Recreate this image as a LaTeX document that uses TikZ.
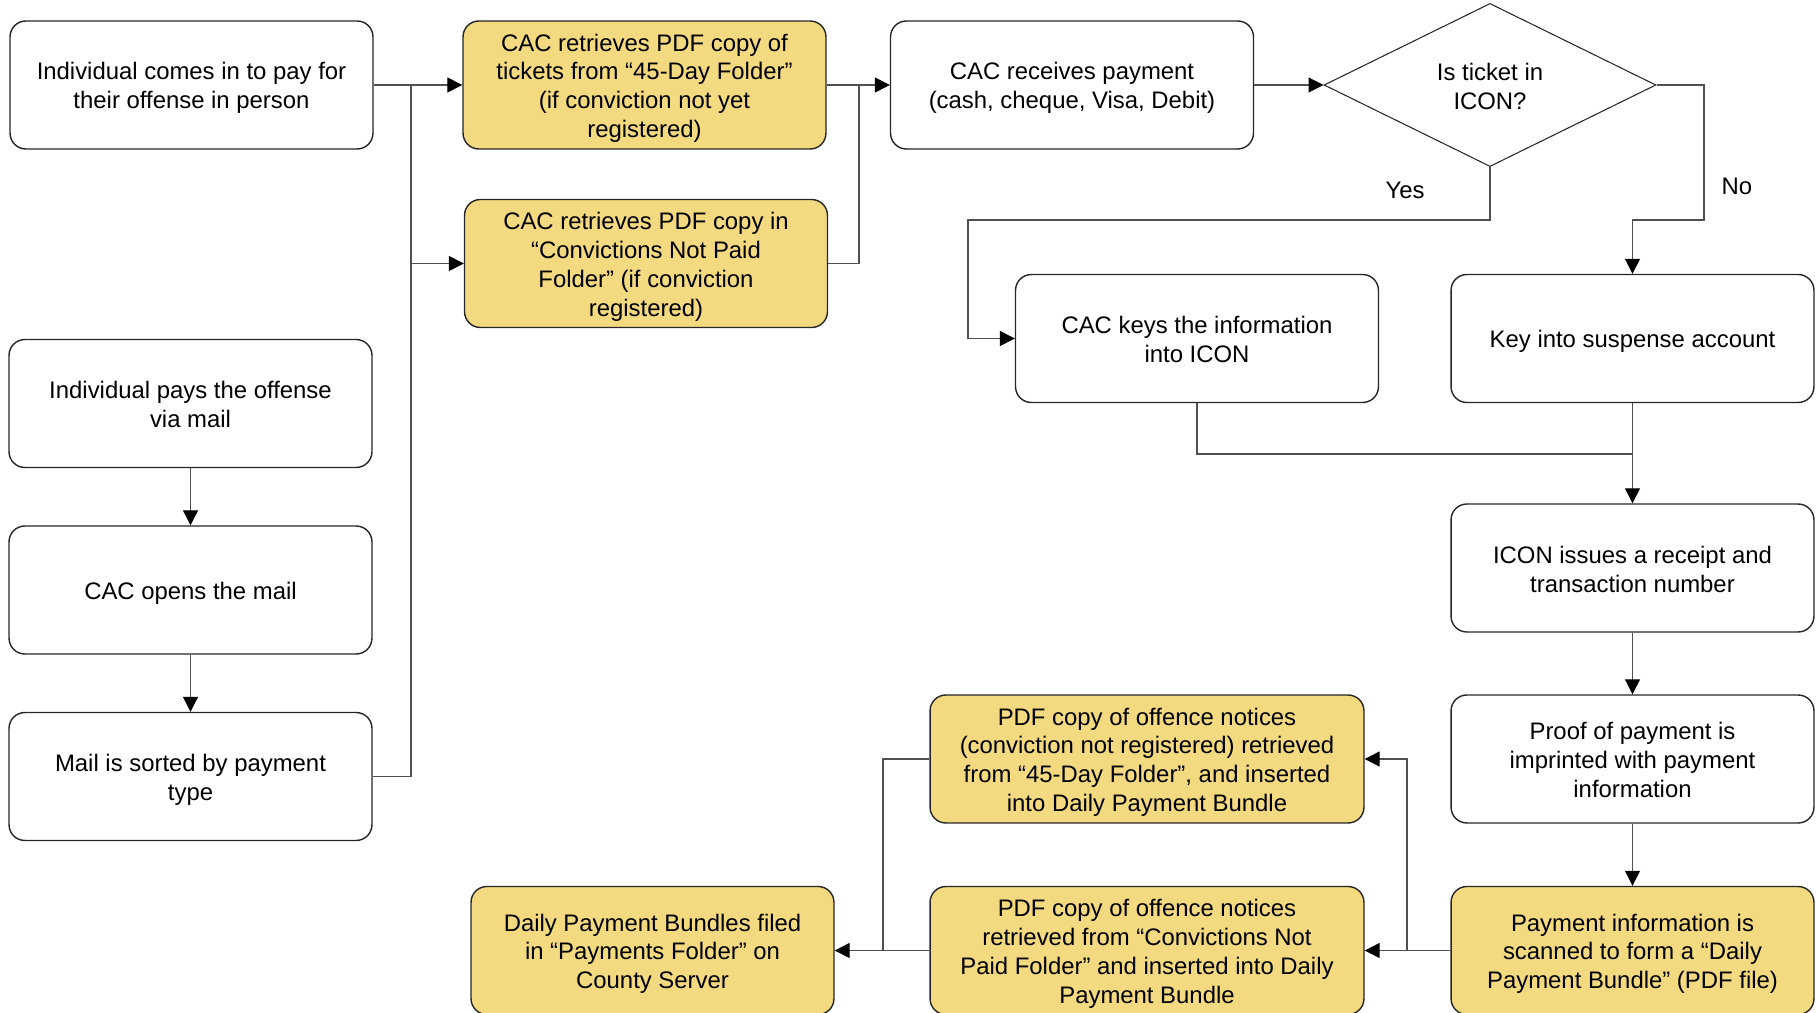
\documentclass[tikz,border=0pt]{standalone}
\usepackage{fontspec}
\setmainfont{Liberation Sans}
\usetikzlibrary{shapes.geometric,arrows.meta}
\definecolor{folder}{RGB}{243,217,128}
\definecolor{linkgray}{RGB}{80,80,80}
% uniform first-line height and last-line depth so every text block centres alike
\newcommand\topln{\rule{0pt}{13.5pt}}
\newcommand\botln{\rule[-2.5pt]{0pt}{2.5pt}}
\begin{document}
\begin{tikzpicture}[x=0.02cm,y=-0.02cm,
  txt/.style={font=\fontsize{13.6}{16.4}\selectfont},
  box/.style={txt, draw=black!85, line width=0.8pt, rounded corners=9pt,
    minimum width=7.26cm, minimum height=2.56cm, align=center, inner sep=0pt},
  widebox/.style={box, minimum width=8.68cm},
  folderbox/.style={fill=folder},
  decision/.style={txt, draw=black!85, line width=0.6pt, diamond, align=center,
    inner sep=0pt, minimum width=6.64cm, minimum height=3.16cm},
  link/.style={draw=linkgray, line width=0.6pt},
  arr/.style={link, -{Triangle[length=8.5pt,width=8.5pt,color=black]}},
]
\clip (0,0) rectangle (1816,1013);
\useasboundingbox (0,0) rectangle (1816,1013);

% in-person and mail intake
\node[box] (A) at (191.5,85) {\topln Individual comes in to pay for\\their offense in person\botln};
\node[box] (M) at (190.5,403.5) {\topln Individual pays the offense\\via mail\botln};
\node[box] (N) at (190.5,590) {\topln CAC opens the mail\botln};
\node[box] (O) at (190.5,776.5) {\topln Mail is sorted by payment\\type\botln};

% folder retrieval
\node[box,folderbox] (B) at (644.5,85) {\topln CAC retrieves PDF copy of\\tickets from “45-Day Folder”\\(if conviction not yet\\registered)\botln};
\node[box,folderbox] (C) at (646,263.5) {\topln CAC retrieves PDF copy in\\“Convictions Not Paid\\Folder” (if conviction\\registered)\botln};

% payment and decision
\node[box] (D) at (1072,85) {\topln CAC receives payment\\(cash, cheque, Visa, Debit)\botln};
\node[decision] (Q) at (1490,85) {\topln Is ticket in\\ICON?\botln};
\node[box] (E) at (1197,338.5) {\topln CAC keys the information\\into ICON\botln};
\node[box] (F) at (1632.5,338.5) {\topln Key into suspense account\botln};
\node[box] (G) at (1632.5,568) {\topln ICON issues a receipt and\\transaction number\botln};
\node[box] (H) at (1632.5,759) {\topln Proof of payment is\\imprinted with payment\\information\botln};
\node[box,folderbox] (I) at (1632.5,950.5) {\topln Payment information is\\scanned to form a “Daily\\Payment Bundle” (PDF file)\botln};

% bundle assembly
\node[widebox,folderbox] (J) at (1147,759) {\topln PDF copy of offence notices\\(conviction not registered) retrieved\\from “45-Day Folder”, and inserted\\into Daily Payment Bundle\botln};
\node[widebox,folderbox] (K) at (1147,950.5) {\topln PDF copy of offence notices\\retrieved from “Convictions Not\\Paid Folder” and inserted into Daily\\Payment Bundle\botln};
\node[box,folderbox] (L) at (652.5,950.5) {\topln Daily Payment Bundles filed\\in “Payments Folder” on\\County Server\botln};

% branch labels
\node[txt] (yes) at (1405,189) {\topln Yes\botln};
\node[txt] (no) at (1737,185) {\topln No\botln};

% routing points
\coordinate (trunkTop) at (411,85);
\coordinate (trunkC) at (411,263.5);
\coordinate (joinB) at (859,85);
\coordinate (yesA) at (1490,220);
\coordinate (yesB) at (968,220);
\coordinate (yesC) at (968,338.5);
\coordinate (noA) at (1704,85);
\coordinate (noB) at (1704,220);
\coordinate (noC) at (1632.5,220);
\coordinate (merge) at (1632.5,454);
\coordinate (splitI) at (1407,950.5);
\coordinate (joinK) at (883,950.5);

% connectors
\draw[arr] (A.east) -- (B.west);
\draw[link] (O.east) -| (trunkTop);
\draw[arr] (trunkC) -- (C.west);
\draw[arr] (M) -- (N);
\draw[arr] (N) -- (O);
\draw[arr] (B.east) -- (D.west);
\draw[link] (C.east) -| (joinB);
\draw[arr] (D.east) -- (Q.west);
\draw[arr] (Q.south) -- (yesA) -- (yesB) -- (yesC) -- (E.west);
\draw[arr] (Q.east) -- (noA) -- (noB) -- (noC) -- (F.north);
\draw[link] (E.south) |- (merge);
\draw[arr] (F.south) -- (G.north);
\draw[arr] (G) -- (H);
\draw[arr] (H) -- (I);
\draw[arr] (I.west) -- (K.east);
\draw[arr] (splitI) |- (J.east);
\draw[link] (J.west) -| (joinK);
\draw[arr] (K.west) -- (L.east);
\end{tikzpicture}
\end{document}
